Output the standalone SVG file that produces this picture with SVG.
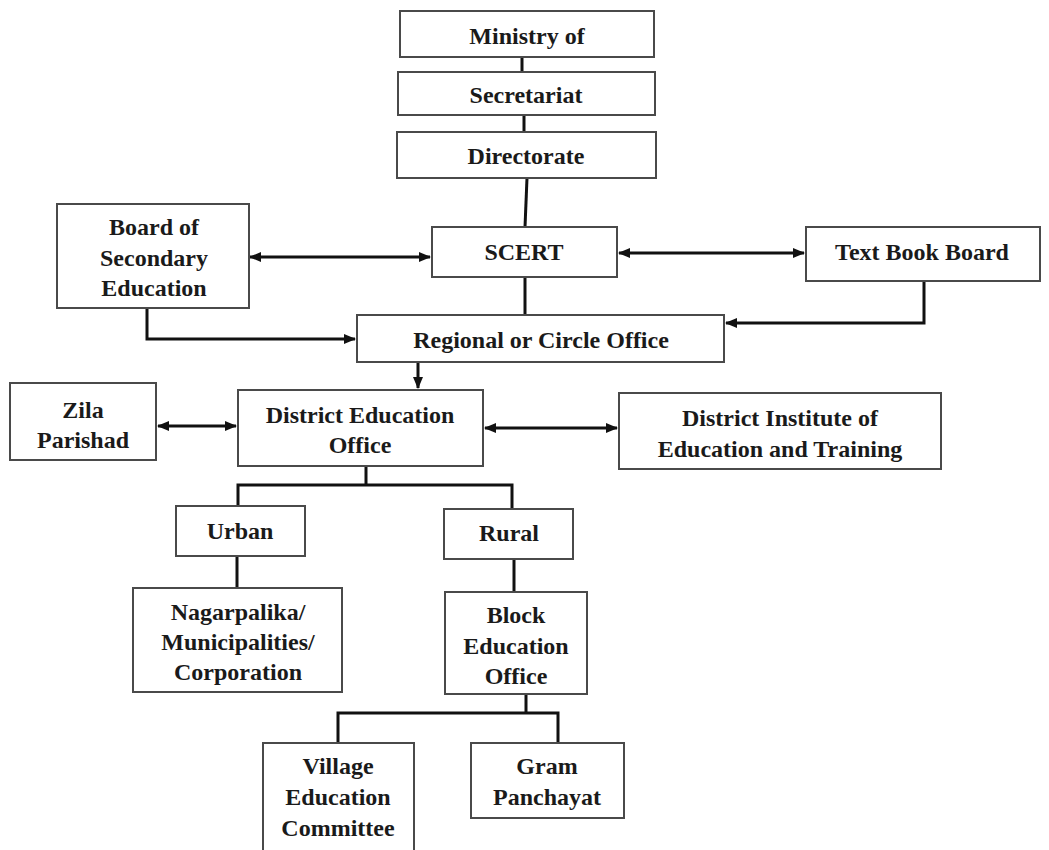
<svg xmlns="http://www.w3.org/2000/svg" width="1049" height="850" viewBox="0 0 1049 850">
  <style>
    .box { fill: #ffffff; stroke: #4a4a4a; stroke-width: 2; }
    .lbl { font-family: "Liberation Serif", "Times New Roman", serif; font-weight: bold; font-size: 24px; fill: #1a1a1a; text-anchor: middle; }
    .wire { fill: none; stroke: #111111; stroke-width: 3; }
    .one { marker-end: url(#head); }
    .two { marker-start: url(#head); marker-end: url(#head); }
  </style>
  <defs>
    <marker id="head" markerUnits="userSpaceOnUse" markerWidth="12" markerHeight="10" refX="11" refY="5" orient="auto-start-reverse">
      <path d="M0,0 L12,5 L0,10 z" fill="#111111"/>
    </marker>
  </defs>
  <rect width="1049" height="850" fill="#ffffff"/>

  <!-- connectors -->
  <g id="connectors">
    <line class="wire" x1="522" y1="57" x2="522" y2="72"/>
    <line class="wire" x1="524" y1="115" x2="524" y2="132"/>
    <line class="wire" x1="527" y1="178" x2="525" y2="227"/>
    <line class="wire two" x1="250" y1="257" x2="430" y2="257"/>
    <line class="wire two" x1="619" y1="253" x2="804" y2="253"/>
    <line class="wire" x1="525" y1="277" x2="525" y2="315"/>
    <polyline class="wire one" points="147,308 147,339 355,339"/>
    <polyline class="wire one" points="924,281 924,323 726,323"/>
    <line class="wire one" x1="418" y1="362" x2="418" y2="388"/>
    <line class="wire two" x1="158" y1="426" x2="236" y2="426"/>
    <line class="wire two" x1="485" y1="428" x2="617" y2="428"/>
    <polyline class="wire" points="366,466 366,485"/>
    <polyline class="wire" points="238,506 238,485 512,485 512,509"/>
    <line class="wire" x1="237" y1="556" x2="237" y2="588"/>
    <line class="wire" x1="514" y1="559" x2="514" y2="592"/>
    <line class="wire" x1="526" y1="694" x2="526" y2="713"/>
    <polyline class="wire" points="338,743 338,713 558,713 558,743"/>
  </g>

  <g id="ministry">
    <rect class="box" x="400" y="11" width="254" height="46"/>
    <text class="lbl" x="527" y="44">Ministry of</text>
  </g>
  <g id="secretariat">
    <rect class="box" x="398" y="72" width="257" height="43"/>
    <text class="lbl" x="526" y="103">Secretariat</text>
  </g>
  <g id="directorate">
    <rect class="box" x="397" y="132" width="259" height="46"/>
    <text class="lbl" x="526" y="164">Directorate</text>
  </g>
  <g id="scert">
    <rect class="box" x="432" y="227" width="185" height="50"/>
    <text class="lbl" x="524" y="260">SCERT</text>
  </g>
  <g id="board-secondary">
    <rect class="box" x="57" y="204" width="192" height="104"/>
    <text class="lbl" x="154" y="235">Board of</text>
    <text class="lbl" x="154" y="266">Secondary</text>
    <text class="lbl" x="154" y="296">Education</text>
  </g>
  <g id="text-book-board">
    <rect class="box" x="806" y="227" width="234" height="54"/>
    <text class="lbl" x="922" y="260">Text Book Board</text>
  </g>
  <g id="regional">
    <rect class="box" x="357" y="315" width="367" height="47"/>
    <text class="lbl" x="541" y="348">Regional or Circle Office</text>
  </g>
  <g id="zila">
    <rect class="box" x="10" y="383" width="146" height="77"/>
    <text class="lbl" x="83" y="418">Zila</text>
    <text class="lbl" x="83" y="448">Parishad</text>
  </g>
  <g id="district-office">
    <rect class="box" x="238" y="390" width="245" height="76"/>
    <text class="lbl" x="360" y="423">District Education</text>
    <text class="lbl" x="360" y="453">Office</text>
  </g>
  <g id="diet">
    <rect class="box" x="619" y="393" width="322" height="76"/>
    <text class="lbl" x="780" y="426">District Institute of</text>
    <text class="lbl" x="780" y="457">Education and Training</text>
  </g>
  <g id="urban">
    <rect class="box" x="176" y="506" width="129" height="50"/>
    <text class="lbl" x="240" y="539">Urban</text>
  </g>
  <g id="rural">
    <rect class="box" x="444" y="509" width="129" height="50"/>
    <text class="lbl" x="509" y="541">Rural</text>
  </g>
  <g id="nagarpalika">
    <rect class="box" x="133" y="588" width="209" height="104"/>
    <text class="lbl" x="238" y="620">Nagarpalika/</text>
    <text class="lbl" x="238" y="650">Municipalities/</text>
    <text class="lbl" x="238" y="680">Corporation</text>
  </g>
  <g id="block-office">
    <rect class="box" x="445" y="592" width="142" height="102"/>
    <text class="lbl" x="516" y="623">Block</text>
    <text class="lbl" x="516" y="654">Education</text>
    <text class="lbl" x="516" y="684">Office</text>
  </g>
  <g id="village-committee">
    <rect class="box" x="263" y="743" width="151" height="120"/>
    <text class="lbl" x="338" y="774">Village</text>
    <text class="lbl" x="338" y="805">Education</text>
    <text class="lbl" x="338" y="836">Committee</text>
  </g>
  <g id="gram-panchayat">
    <rect class="box" x="471" y="743" width="153" height="75"/>
    <text class="lbl" x="547" y="774">Gram</text>
    <text class="lbl" x="547" y="805">Panchayat</text>
  </g>
</svg>
